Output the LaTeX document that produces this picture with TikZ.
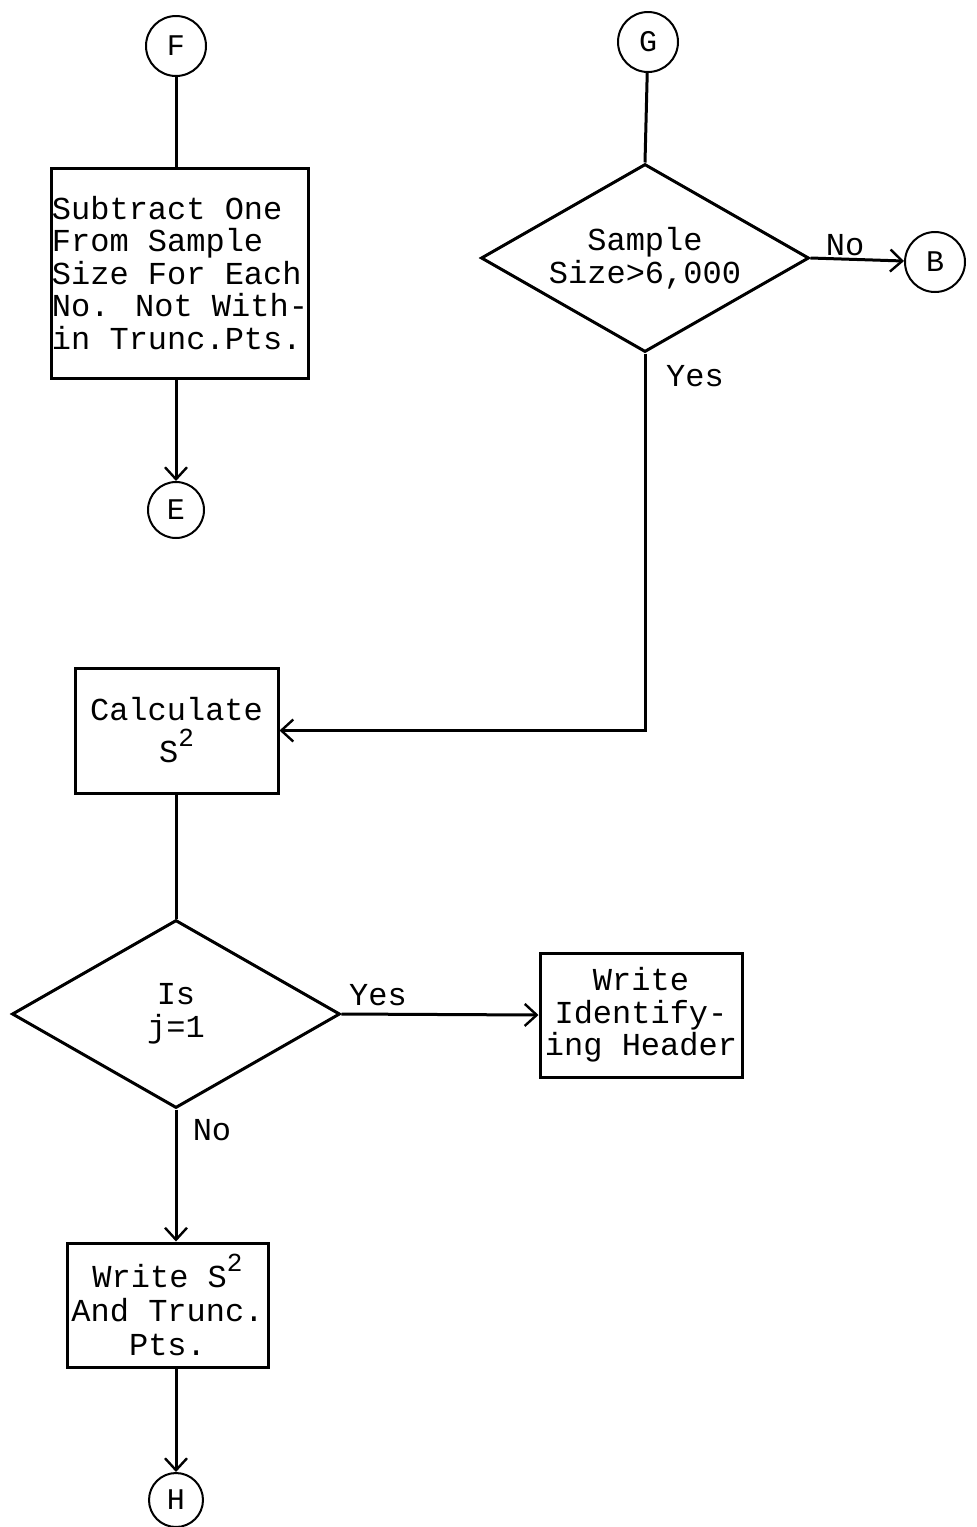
\documentclass[tikz,border=0pt]{standalone}
\usepackage{fontspec}
\setmainfont{Liberation Mono}
\usetikzlibrary{shapes.geometric,arrows.meta}
\newcommand{\sqr}{\raisebox{0.5em}{\fontsize{13}{13}\selectfont 2}}
\begin{document}
\begin{tikzpicture}[x=0.5pt,y=-0.5pt,
  every node/.style={font=\fontsize{16}{16.25}\selectfont},
  conn/.style={circle,draw,line width=1pt,minimum size=30pt,inner sep=0pt,font=\fontsize{15}{15}\selectfont},
  proc/.style={rectangle,draw,line width=1.5pt,inner sep=0pt,align=center},
  dec/.style={diamond,aspect=1.75,draw,line width=1.5pt,inner sep=0pt,align=center,minimum width=164pt,minimum height=94pt},
  lbl/.style={inner sep=0pt},
  line/.style={line width=1.5pt},
  arr/.style={line width=1.5pt,-{Straight Barb[length=6pt,width=11pt,line width=1.2pt]}}
]
\useasboundingbox (0,0) rectangle (977,1527);
\node[conn] (f) at (176,46) {F};
\node[proc,align=left,minimum width=125pt,minimum height=105pt] (box1) at (180,273)
  {Subtract One\\From Sample\\Size For Each\\No. Not With-\\in Trunc.Pts.};
\node[conn,minimum size=28pt] (e) at (176,510) {E};
\node[conn] (g) at (648,42) {G};
\node[dec] (d1) at (645,258) {Sample\\Size>6,000};
\node[conn] (b) at (935,262) {B};
\node[lbl] (no1) at (845,245) {No};
\node[lbl] (yes1) at (695,376) {Yes};
\node[proc,minimum width=101.5pt,minimum height=62.5pt,font=\fontsize{16}{21}\selectfont] (calc) at (176.5,730.5) {Calculate\\S\sqr};
\node[dec] (d2) at (176,1014) {Is\\j=1};
\node[proc,minimum width=101pt,minimum height=62pt] (hdr) at (641,1015) {Write\\Identify-\\ing Header};
\node[lbl] (yes2) at (378,995) {Yes};
\node[lbl] (no2) at (212,1130) {No};
\node[proc,minimum width=100.5pt,minimum height=62pt,font=\fontsize{16}{17}\selectfont] (ws) at (167.5,1305) {Write S\sqr\\And Trunc.\\Pts.};
\node[conn,minimum size=27pt] (h) at (176,1500) {H};

\draw[line] (f) -- (f |- box1.north);
\draw[arr] (box1.south -| e) -- (e);
\draw[line] (g) -- (d1.north);
\draw[arr] (d1.east) -- (b);
\draw[arr] (d1.south) |- (calc.east);
\draw[line] (d2.north |- calc.south) -- (d2.north);
\draw[arr] (d2.east) -- (hdr.west);
\draw[arr] (d2.south) -- (d2.south |- ws.north);
\draw[arr] (ws.south -| h) -- (h);
\end{tikzpicture}
\end{document}
